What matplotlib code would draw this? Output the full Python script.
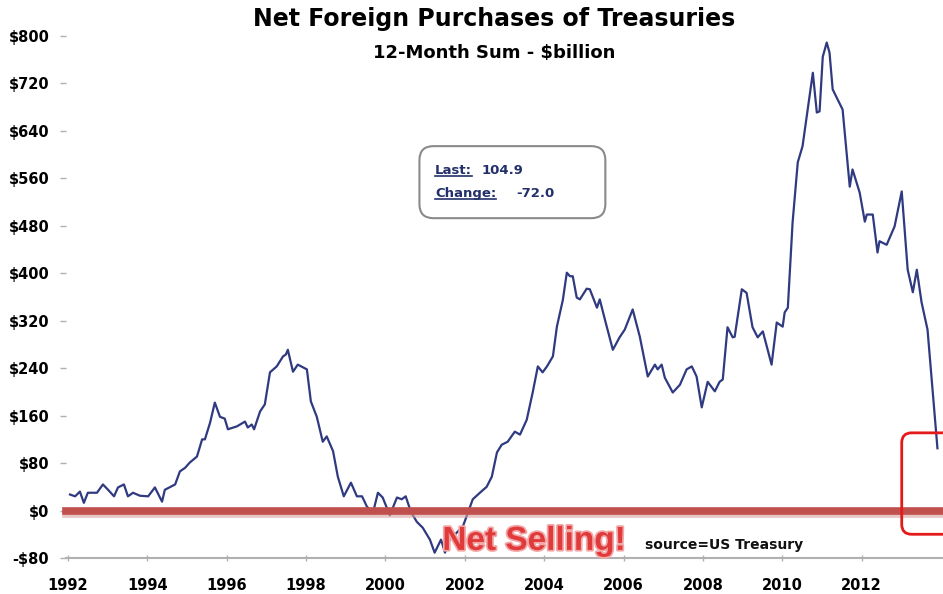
import matplotlib
matplotlib.use("Agg")
import matplotlib.pyplot as plt
import matplotlib.patheffects as pe
from matplotlib.patches import FancyBboxPatch
from matplotlib.lines import Line2D

# 12-month sum of net foreign purchases of treasuries, $bn
years = [1992.05, 1992.18, 1992.30, 1992.40, 1992.50, 1992.73, 1992.88, 1993.01, 1993.16, 1993.26,
         1993.41, 1993.51, 1993.64, 1993.81, 1994.02, 1994.19, 1994.37, 1994.44, 1994.70, 1994.82,
         1994.95, 1995.07, 1995.25, 1995.38, 1995.45, 1995.58, 1995.70, 1995.83, 1995.95, 1996.03,
         1996.26, 1996.46, 1996.53, 1996.63, 1996.69, 1996.84, 1996.96, 1997.09, 1997.26, 1997.42,
         1997.49, 1997.54, 1997.67, 1997.79, 1998.02, 1998.12, 1998.27, 1998.42, 1998.52, 1998.68,
         1998.80, 1998.95, 1999.13, 1999.28, 1999.41, 1999.53, 1999.68, 1999.81, 1999.93, 2000.11,
         2000.29, 2000.41, 2000.51, 2000.64, 2000.79, 2000.94, 2001.12, 2001.24, 2001.40, 2001.50,
         2001.62, 2001.95, 2002.08, 2002.20, 2002.38, 2002.55, 2002.68, 2002.81, 2002.93, 2003.08,
         2003.26, 2003.39, 2003.56, 2003.71, 2003.84, 2003.96, 2004.07, 2004.22, 2004.32, 2004.47,
         2004.57, 2004.65, 2004.72, 2004.82, 2004.90, 2005.07, 2005.15, 2005.33, 2005.40, 2005.53,
         2005.73, 2005.90, 2006.03, 2006.23, 2006.41, 2006.61, 2006.79, 2006.86, 2006.96, 2007.04,
         2007.24, 2007.42, 2007.59, 2007.72, 2007.84, 2007.97, 2008.12, 2008.30, 2008.42, 2008.50,
         2008.62, 2008.75, 2008.80, 2008.98, 2009.10, 2009.25, 2009.38, 2009.51, 2009.73, 2009.86,
         2010.01, 2010.06, 2010.14, 2010.22, 2010.26, 2010.39, 2010.51, 2010.64, 2010.77, 2010.87,
         2010.94, 2011.02, 2011.12, 2011.19, 2011.27, 2011.52, 2011.70, 2011.77, 2011.95, 2012.08,
         2012.13, 2012.28, 2012.40, 2012.45, 2012.63, 2012.83, 2013.01, 2013.16, 2013.29, 2013.39,
         2013.51, 2013.66, 2013.91]
values = [27, 24, 32, 13, 30, 30, 44, 35, 24, 39,
          44, 24, 30, 25, 24, 39, 15, 35, 44, 66,
          72, 81, 91, 120, 120, 148, 182, 158, 155, 137,
          142, 150, 140, 145, 137, 167, 179, 233, 243, 260,
          263, 271, 234, 246, 238, 184, 158, 116, 125, 100,
          57, 24, 47, 24, 24, 7, -5, 30, 22, -8,
          22, 19, 24, -2, -19, -29, -49, -71, -49, -71,
          -49, -27, -3, 19, 30, 40, 57, 98, 111, 116,
          133, 128, 153, 199, 243, 233, 243, 260, 310, 355,
          401, 395, 395, 359, 356, 374, 373, 342, 356, 322,
          271, 292, 305, 339, 293, 226, 246, 238, 246, 224,
          199, 212, 238, 243, 226, 174, 217, 201, 217, 221,
          309, 292, 293, 373, 367, 309, 292, 302, 246, 317,
          310, 334, 342, 440, 486, 587, 614, 676, 738, 671,
          673, 765, 789, 772, 710, 676, 546, 575, 536, 487,
          499, 499, 435, 454, 448, 479, 538, 406, 368, 406,
          351, 305, 105]

y_ticks = [-80, 0, 80, 160, 240, 320, 400, 480, 560, 640, 720, 800]
x_ticks = [1992, 1994, 1996, 1998, 2000, 2002, 2004, 2006, 2008, 2010, 2012]
last_val = "104.9"
change_val = "-72.0"

plt.rcParams['font.family'] = 'DejaVu Sans'
plt.rcParams['font.weight'] = 'bold'

fig = plt.figure(figsize=(9.43, 5.94), dpi=100)
ax = fig.add_axes([0.0700, 0.0606, 0.9300, 0.8788])

ax.plot(years, values, color='#2f3a80', lw=1.6, zorder=2)

# zero line with a soft shadow
ax.axhline(0, color='#c0504d', lw=5.5, zorder=3, clip_on=False,
           path_effects=[pe.SimpleLineShadow(offset=(0, -2.5), shadow_color='#d8a0a0', alpha=0.6),
                         pe.Normal()])

ax.set_xlim(1991.95, 2014.05)
ax.set_ylim(-80, 800)
ax.set_xticks(x_ticks)
ax.set_xticklabels([str(y) for y in x_ticks])
ax.set_yticks(y_ticks)
ax.set_yticklabels([("-$%d" % -v) if v < 0 else ("$%d" % v) for v in y_ticks])
ax.tick_params(axis='y', length=4, width=1, color='#b0b0b0', pad=8, labelsize=10.5)
ax.tick_params(axis='x', length=5, width=1, color='#b0b0b0', direction='inout', pad=12, labelsize=10.5)
for s in ['top', 'right', 'left']:
    ax.spines[s].set_visible(False)
ax.spines['bottom'].set_color('#b0b0b0')
ax.spines['bottom'].set_linewidth(1.5)

fig.text(0.524, 0.968, "Net Foreign Purchases of Treasuries", ha='center', va='center',
         fontsize=17, fontweight='bold')
fig.text(0.524, 0.911, "12-Month Sum - $billion", ha='center', va='center',
         fontsize=13, fontweight='bold')

# "Net Selling!" and source
ax.text(2003.75, -52, "Net Selling!", ha='center', va='center', fontsize=24, fontweight='bold',
        family=['Liberation Sans Narrow', 'Liberation Sans'], color='#e03a3a', zorder=4,
        path_effects=[pe.withStroke(linewidth=2.5, foreground='#f2a8a8')])
ax.text(2006.53, -58, "source=US Treasury", ha='left', va='center', fontsize=10,
        fontweight='bold', color='#111111', zorder=4)

# red highlight box (cut off at the right edge)
ax.add_patch(FancyBboxPatch((2013.01, -40), 2.0, 171,
                            boxstyle="round,pad=0,rounding_size=0.25", mutation_aspect=67,
                            fill=False, ec='#e41a1a', lw=2, clip_on=False, zorder=5))

# "Last / Change" info box
ax.add_patch(FancyBboxPatch((0.403, 0.651), 0.212, 0.138, transform=ax.transAxes,
                            boxstyle="round,pad=0,rounding_size=0.016", mutation_aspect=1.68,
                            fill=False, ec='#8a8a8a', lw=1.5, zorder=5))
navy = '#23306a'
t1 = ax.text(0.421, 0.742, "Last:", transform=ax.transAxes, ha='left', va='center',
             fontsize=9.5, fontweight='bold', color=navy)
ax.text(0.474, 0.742, last_val, transform=ax.transAxes, ha='left', va='center',
        fontsize=9.5, fontweight='bold', color=navy)
t2 = ax.text(0.421, 0.698, "Change:", transform=ax.transAxes, ha='left', va='center',
             fontsize=9.5, fontweight='bold', color=navy)
ax.text(0.513, 0.698, change_val, transform=ax.transAxes, ha='left', va='center',
        fontsize=9.5, fontweight='bold', color=navy)

fig.canvas.draw()
r = fig.canvas.get_renderer()
for t in (t1, t2):
    bb = t.get_window_extent(r)
    yy = bb.y0 + 1
    fig.add_artist(Line2D([bb.x0 / fig.bbox.width, bb.x1 / fig.bbox.width],
                          [yy / fig.bbox.height, yy / fig.bbox.height],
                          color=navy, lw=1.2))

fig.savefig("out.png", dpi=100)
